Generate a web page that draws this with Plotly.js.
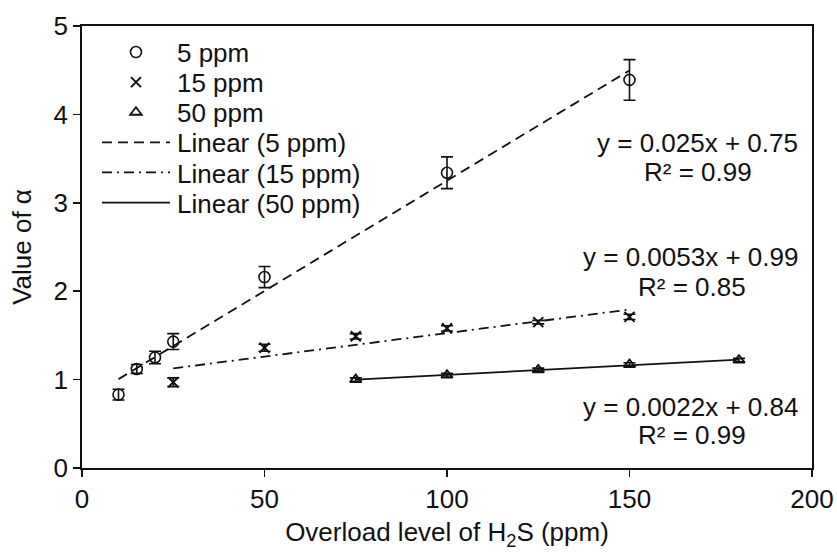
<!DOCTYPE html>
<html>
<head>
<meta charset="utf-8">
<script src="https://cdn.plot.ly/plotly-3.0.1.min.js"></script>
<style>
  html, body { margin: 0; padding: 0; background: #fff; }
  #chart { width: 837px; height: 554px; }
</style>
</head>
<body>
<div id="chart"></div>
<script>
// ---- data ----
const seriesNames = ['5 ppm', '15 ppm', '50 ppm'];
const trendNames = ['Linear (5 ppm)', 'Linear (15 ppm)', 'Linear (50 ppm)'];

const x5 = [10, 15, 20, 25, 50, 100, 150];
const y5 = [0.83, 1.12, 1.25, 1.43, 2.16, 3.34, 4.39];
const e5 = [0.06, 0.05, 0.07, 0.09, 0.12, 0.18, 0.23];

const x15 = [25, 50, 75, 100, 125, 150];
const y15 = [0.97, 1.36, 1.49, 1.58, 1.65, 1.71];
const e15 = [0.05, 0.04, 0.03, 0.03, 0.02, 0.03];

const x50 = [75, 100, 125, 150, 180];
const y50 = [1.00, 1.05, 1.11, 1.17, 1.22];
const e50 = [0.02, 0.02, 0.02, 0.02, 0.02];

const eqTexts = ['y = 0.025x + 0.75', 'y = 0.0053x + 0.99', 'y = 0.0022x + 0.84'];
const r2Texts = ['R² = 0.99', 'R² = 0.85', 'R² = 0.99'];

const xTicks = [0, 50, 100, 150, 200];
const yTicks = [0, 1, 2, 3, 4, 5];

// ---- helpers ----
function linfit(xs, ys) {
  const n = xs.length;
  const mx = xs.reduce((a, b) => a + b, 0) / n;
  const my = ys.reduce((a, b) => a + b, 0) / n;
  let sxx = 0, sxy = 0;
  for (let i = 0; i < n; i++) { sxx += (xs[i] - mx) ** 2; sxy += (xs[i] - mx) * (ys[i] - my); }
  const m = sxy / sxx;
  return { m: m, b: my - m * mx };
}
function trend(xs, ys) {
  const f = linfit(xs, ys);
  const lo = Math.min(...xs), hi = Math.max(...xs);
  return { x: [lo, hi], y: [f.m * lo + f.b, f.m * hi + f.b] };
}

const FONT = 'Liberation Sans, Arial, sans-serif';
const BLACK = '#111111';
const FS = 26;

function errObj(arr) {
  return { type: 'data', array: arr, visible: true, color: BLACK, thickness: 1.6, width: 6 };
}

const t5 = trend(x5, y5), t15 = trend(x15, y15), t50 = trend(x50, y50);

const traces = [
  { x: x5, y: y5, name: seriesNames[0], mode: 'markers', type: 'scatter',
    marker: { symbol: 'circle-open', size: 11, color: BLACK, line: { width: 1.6, color: BLACK } },
    error_y: errObj(e5) },
  { x: x15, y: y15, name: seriesNames[1], mode: 'markers', type: 'scatter',
    marker: { symbol: 'x-thin-open', size: 10, color: BLACK, line: { width: 2, color: BLACK } },
    error_y: errObj(e15) },
  { x: x50, y: y50, name: seriesNames[2], mode: 'markers', type: 'scatter',
    marker: { symbol: 'triangle-up-open', size: 10, color: BLACK, line: { width: 1.8, color: BLACK } },
    error_y: errObj(e50) },
  { x: t5.x, y: t5.y, name: trendNames[0], mode: 'lines', type: 'scatter',
    line: { color: BLACK, width: 1.8, dash: '10px,6px' } },
  { x: t15.x, y: t15.y, name: trendNames[1], mode: 'lines', type: 'scatter',
    line: { color: BLACK, width: 1.8, dash: '10px,5px,2px,5px' } },
  { x: t50.x, y: t50.y, name: trendNames[2], mode: 'lines', type: 'scatter',
    line: { color: BLACK, width: 1.8 } }
];

// annotation placement (paper coords)
const eqPos = [
  { ex: 0.9836, ey: 0.7353, rx: 0.8438, ry: 0.6697 },
  { ex: 0.9836, ey: 0.4780, rx: 0.8356, ry: 0.4102 },
  { ex: 0.9836, ey: 0.1387, rx: 0.8356, ry: 0.0747 }
];
const annotations = [];
eqTexts.forEach((t, i) => {
  annotations.push({ xref: 'paper', yref: 'paper', x: eqPos[i].ex, y: eqPos[i].ey, text: t,
    showarrow: false, xanchor: 'right', yanchor: 'middle', font: { family: FONT, size: FS, color: BLACK } });
  annotations.push({ xref: 'paper', yref: 'paper', x: eqPos[i].rx, y: eqPos[i].ry, text: r2Texts[i],
    showarrow: false, xanchor: 'center', yanchor: 'middle', font: { family: FONT, size: FS, color: BLACK } });
});

const axisCommon = {
  showline: true, linecolor: BLACK, linewidth: 1.8, mirror: true,
  ticks: 'outside', ticklen: 7, tickwidth: 1.6, tickcolor: BLACK,
  showgrid: false, zeroline: false,
  tickfont: { family: FONT, size: FS, color: BLACK }
};

const layout = {
  width: 837, height: 554,
  margin: { l: 82, r: 25, t: 26, b: 86 },
  paper_bgcolor: '#ffffff', plot_bgcolor: '#ffffff',
  font: { family: FONT, color: BLACK },
  xaxis: Object.assign({}, axisCommon, {
    range: [0, 200], tickvals: xTicks, ticktext: xTicks.map(String),
    title: { text: 'Overload level of H<sub>2</sub>S (ppm)', font: { family: FONT, size: FS, color: BLACK }, standoff: 10 }
  }),
  yaxis: Object.assign({}, axisCommon, {
    range: [0, 5], tickvals: yTicks, ticktext: yTicks.map(String),
    title: { text: 'Value of α', font: { family: FONT, size: FS, color: BLACK }, standoff: 14 }
  }),
  showlegend: true,
  legend: {
    x: 0.0753, y: 0.994, xanchor: 'left', yanchor: 'top',
    bgcolor: 'rgba(0,0,0,0)', borderwidth: 0, tracegroupgap: 0,
    font: { family: FONT, size: FS, color: BLACK }
  },
  annotations: annotations
};

Plotly.newPlot('chart', traces, layout, { staticPlot: true }).then(function () {
  // let legend samples extend beyond the legend box
  document.querySelectorAll('.legend [clip-path]').forEach(function (e) { e.removeAttribute('clip-path'); });
  // lengthen the legend line samples and move marker samples to match the reference legend
  document.querySelectorAll('.legend .legendlines path').forEach(function (p) {
    p.setAttribute('d', 'M-35,0h68');
  });
  document.querySelectorAll('.legend .legendpoints').forEach(function (g) {
    g.setAttribute('transform', 'translate(-21,0)');
  });
  // tighter row spacing like the reference legend
  let first = null;
  document.querySelectorAll('.legend g.traces').forEach(function (g, i) {
    const m = /translate\(\s*([-\d.e]+)[ ,]+([-\d.e]+)\s*\)/.exec(g.getAttribute('transform') || '');
    if (!m) return;
    if (first === null) first = parseFloat(m[2]);
    g.setAttribute('transform', 'translate(' + m[1] + ',' + (first + i * 30.1) + ')');
  });
});
</script>
</body>
</html>
